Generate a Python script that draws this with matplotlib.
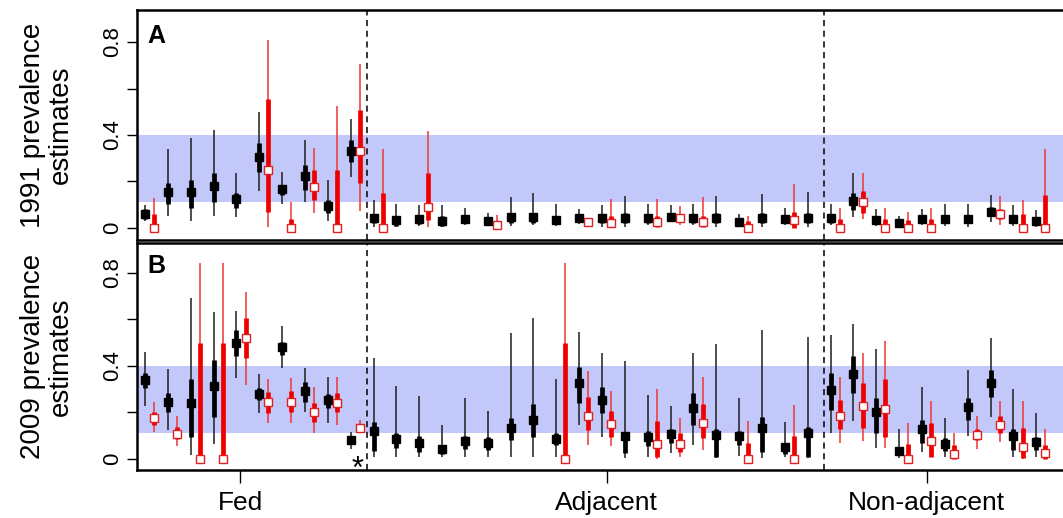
import numpy as np
import matplotlib
matplotlib.use('Agg')
import matplotlib.pyplot as plt

plt.rcParams['font.family'] = ['Liberation Sans', 'DejaVu Sans']

# 40 sites: 10 Fed, 20 Adjacent, 10 Non-adjacent
groups = ['Fed', 'Adjacent', 'Non-adjacent']
group_ticks = [4.16, 20.2, 34.2]
group_breaks = [9.72, 29.72]
band = (0.11, 0.40)
panel_labels = ['A', 'B']
ylabels = ['1991 prevalence\nestimates', '2009 prevalence\nestimates']

# rows: estimate, 50% lo, 50% hi, 95% lo, 95% hi  (None = no estimate)
a_black = [
    (0.060, 0.040, 0.080, 0.030, 0.100), (0.156, 0.103, 0.195, 0.052, 0.340),
    (0.156, 0.085, 0.206, 0.031, 0.387), (0.182, 0.113, 0.236, 0.052, 0.420),
    (0.124, 0.085, 0.150, 0.046, 0.238), (0.307, 0.242, 0.366, 0.159, 0.500),
    (0.167, 0.142, 0.185, 0.103, 0.240), (0.224, 0.163, 0.270, 0.110, 0.378),
    (0.096, 0.064, 0.120, 0.031, 0.206), (0.333, 0.285, 0.378, 0.220, 0.469),
    (0.042, 0.020, 0.060, 0.006, 0.120), (0.034, 0.010, 0.050, 0.006, 0.103),
    (0.039, 0.015, 0.055, 0.009, 0.099), (0.031, 0.010, 0.050, 0.006, 0.099),
    (0.039, 0.020, 0.055, 0.013, 0.085), (0.030, 0.015, 0.045, 0.009, 0.064),
    (0.046, 0.020, 0.065, 0.009, 0.135), (0.046, 0.020, 0.065, 0.013, 0.150),
    (0.034, 0.015, 0.050, 0.009, 0.103), (0.042, 0.025, 0.055, 0.017, 0.082),
    (0.042, 0.020, 0.060, 0.006, 0.099), (0.044, 0.020, 0.065, 0.006, 0.138),
    (0.042, 0.020, 0.060, 0.013, 0.103), (0.046, 0.030, 0.060, 0.024, 0.099),
    (0.042, 0.020, 0.060, 0.013, 0.103), (0.042, 0.020, 0.065, 0.006, 0.138),
    (0.027, 0.020, 0.040, 0.017, 0.060), (0.042, 0.020, 0.065, 0.006, 0.146),
    (0.037, 0.020, 0.055, 0.013, 0.085), (0.042, 0.020, 0.065, 0.006, 0.155),
    (0.042, 0.020, 0.060, 0.013, 0.103), (0.117, 0.077, 0.150, 0.049, 0.236),
    (0.034, 0.015, 0.050, 0.009, 0.082), (0.023, 0.010, 0.035, 0.006, 0.053),
    (0.039, 0.020, 0.055, 0.013, 0.082), (0.037, 0.020, 0.055, 0.009, 0.103),
    (0.040, 0.020, 0.055, 0.006, 0.103), (0.070, 0.050, 0.090, 0.027, 0.142),
    (0.039, 0.020, 0.055, 0.009, 0.099), (0.030, 0.015, 0.045, 0.006, 0.075),
]

a_red = [
    (0.000, 0.000, 0.060, 0.000, 0.130), None, None, None, None,
    (0.250, 0.068, 0.554, 0.006, 0.810), (0.000, 0.000, 0.040, 0.000, 0.110),
    (0.178, 0.120, 0.250, 0.066, 0.345), (0.000, 0.000, 0.250, 0.000, 0.525),
    (0.333, 0.195, 0.507, 0.074, 0.704),
    (0.000, 0.000, 0.150, 0.000, 0.340), None,
    (0.092, 0.034, 0.236, 0.006, 0.418), None, None,
    (0.011, 0.000, 0.030, 0.000, 0.056), None, None, None,
    (0.024, 0.012, 0.035, 0.009, 0.040),
    (0.023, 0.006, 0.050, 0.004, 0.125), None,
    (0.024, 0.006, 0.050, 0.004, 0.125), (0.043, 0.025, 0.060, 0.013, 0.096),
    (0.024, 0.006, 0.050, 0.004, 0.133), None,
    (0.000, 0.000, 0.030, 0.000, 0.050), None,
    (0.034, 0.000, 0.070, 0.000, 0.190), None,
    (0.000, 0.000, 0.040, 0.000, 0.085), (0.110, 0.064, 0.160, 0.037, 0.238),
    (0.000, 0.000, 0.040, 0.000, 0.085), (0.000, 0.000, 0.035, 0.000, 0.070),
    (0.000, 0.000, 0.040, 0.000, 0.085), None, None,
    (0.059, 0.040, 0.080, 0.013, 0.138), (0.000, 0.000, 0.060, 0.000, 0.120),
    (0.000, 0.000, 0.142, 0.000, 0.340),
]

b_black = [
    (0.339, 0.303, 0.368, 0.227, 0.460), (0.243, 0.203, 0.282, 0.124, 0.386),
    (0.239, 0.093, 0.342, 0.017, 0.692), (0.315, 0.182, 0.425, 0.064, 0.632),
    (0.497, 0.442, 0.554, 0.349, 0.636), (0.279, 0.253, 0.303, 0.196, 0.363),
    (0.479, 0.446, 0.503, 0.389, 0.571), (0.293, 0.246, 0.332, 0.200, 0.392),
    (0.253, 0.217, 0.279, 0.156, 0.353), (0.082, 0.065, 0.095, 0.042, 0.117),
    (0.120, 0.036, 0.160, 0.010, 0.432), (0.085, 0.046, 0.110, 0.007, 0.315),
    (0.070, 0.030, 0.100, 0.007, 0.272), (0.042, 0.020, 0.060, 0.007, 0.146),
    (0.077, 0.045, 0.100, 0.010, 0.260), (0.070, 0.040, 0.095, 0.010, 0.207),
    (0.134, 0.082, 0.177, 0.010, 0.542), (0.167, 0.096, 0.235, 0.007, 0.604),
    (0.086, 0.060, 0.110, 0.010, 0.343), (0.325, 0.239, 0.396, 0.146, 0.546),
    (0.253, 0.196, 0.310, 0.096, 0.456), (0.099, 0.024, 0.117, 0.003, 0.420),
    (0.096, 0.055, 0.120, 0.010, 0.275), (0.107, 0.070, 0.130, 0.027, 0.227),
    (0.218, 0.146, 0.282, 0.060, 0.456), (0.103, 0.007, 0.127, 0.003, 0.494),
    (0.099, 0.060, 0.120, 0.013, 0.260), (0.132, 0.031, 0.182, 0.003, 0.554),
    (0.050, 0.020, 0.065, 0.007, 0.160), (0.113, 0.010, 0.139, 0.003, 0.525),
    (0.296, 0.210, 0.368, 0.113, 0.532), (0.365, 0.282, 0.442, 0.163, 0.578),
    (0.203, 0.110, 0.260, 0.046, 0.472), (0.036, 0.020, 0.050, 0.003, 0.127),
    (0.129, 0.070, 0.167, 0.031, 0.310), (0.064, 0.035, 0.090, 0.007, 0.175),
    (0.222, 0.167, 0.260, 0.099, 0.382), (0.328, 0.265, 0.382, 0.182, 0.518),
    (0.100, 0.040, 0.127, 0.010, 0.300), (0.072, 0.040, 0.095, 0.007, 0.196),
]

b_red = [
    (0.177, 0.146, 0.203, 0.117, 0.243), (0.106, 0.086, 0.136, 0.056, 0.185),
    (0.000, 0.000, 0.500, 0.000, 0.843), (0.000, 0.000, 0.500, 0.000, 0.843),
    (0.518, 0.432, 0.606, 0.318, 0.715), (0.243, 0.196, 0.289, 0.153, 0.342),
    (0.246, 0.200, 0.290, 0.156, 0.348), (0.203, 0.160, 0.239, 0.113, 0.310),
    (0.242, 0.200, 0.285, 0.146, 0.350), (0.132, 0.120, 0.150, 0.110, 0.167),
    None, None, None, None, None, None, None, None,
    (0.000, 0.000, 0.500, 0.000, 0.843), (0.186, 0.124, 0.265, 0.060, 0.379),
    (0.149, 0.096, 0.207, 0.056, 0.292), None,
    (0.064, 0.010, 0.163, 0.000, 0.300), (0.064, 0.031, 0.110, 0.010, 0.177),
    (0.156, 0.089, 0.236, 0.039, 0.350), None,
    (0.000, 0.000, 0.070, 0.000, 0.163), None,
    (0.000, 0.000, 0.099, 0.000, 0.232), None,
    (0.185, 0.127, 0.253, 0.070, 0.353), (0.229, 0.132, 0.325, 0.079, 0.456),
    (0.213, 0.096, 0.342, 0.046, 0.508), (0.000, 0.000, 0.064, 0.000, 0.156),
    (0.077, 0.010, 0.153, 0.007, 0.249), (0.020, 0.000, 0.060, 0.000, 0.110),
    (0.103, 0.080, 0.130, 0.043, 0.185), (0.146, 0.110, 0.185, 0.074, 0.249),
    (0.053, 0.003, 0.132, 0.000, 0.249), (0.024, 0.000, 0.060, 0.000, 0.129),
]


def draw_series(ax, rows, dx, thin_c, thick_c, face, edge):
    keep = [i for i, r in enumerate(rows) if r is not None]
    vals = np.array([rows[i] for i in keep])
    xs = np.array(keep) + dx
    ax.vlines(xs, vals[:, 3], vals[:, 4], color=thin_c, lw=1.1, zorder=3)
    ax.vlines(xs, vals[:, 1], vals[:, 2], color=thick_c, lw=3.4, zorder=4)
    ax.plot(xs, vals[:, 0], ls='none', marker='s', ms=6, mfc=face,
            mec=edge, mew=1.0, zorder=5)


W, H = 1063, 518
fig = plt.figure(figsize=(W / 100, H / 100), dpi=100)
ax_a = fig.add_axes([137 / W, 1 - 240 / H, (W - 137) / W, 230 / H])
ax_b = fig.add_axes([137 / W, 1 - 470 / H, (W - 137) / W, 227 / H])

ylims = [(-0.052, 0.938), (-0.047, 0.927)]
series = [(a_black, a_red), (b_black, b_red)]

for k, ax in enumerate([ax_a, ax_b]):
    blk, red = series[k]
    ax.axhspan(band[0], band[1], color='#c2c8f9', lw=0, zorder=0)
    for xb in group_breaks:
        ax.axvline(xb, color='black', lw=1.1, ls=(0, (4, 3)), zorder=2)
    draw_series(ax, blk, 0.0, '#1e1e1e', 'black', 'black', 'black')
    draw_series(ax, red, 0.4, '#ee3535', '#ee0000', 'white', '#e02020')
    ax.set_xlim(-0.35, 40.17)
    ax.set_ylim(*ylims[k])
    ax.set_yticks([0, 0.2, 0.4, 0.6, 0.8])
    ax.set_yticklabels(['0', '', '0.4', '', '0.8'], rotation=90, va='center',
                       fontsize=16)
    ax.tick_params(axis='y', length=7, width=1.0, pad=3)
    for s in ['top', 'bottom', 'left']:
        ax.spines[s].set_linewidth(1.8)
    ax.spines['right'].set_visible(False)
    ax.text(0.1, 0.797, panel_labels[k], fontsize=18, fontweight='bold',
            va='baseline', ha='left')
    y0, y1 = ax.get_position().y0, ax.get_position().y1
    fig.text(47 / W, (y0 + y1) / 2, ylabels[k], rotation=90, ha='center',
             va='center', multialignment='center', fontsize=20,
             linespacing=1.1)

ax_a.set_xticks([])
ax_b.set_xticks(group_ticks)
ax_b.set_xticklabels(groups, fontsize=19)
ax_b.tick_params(axis='x', length=9, width=1.0, pad=6)

# marker for the one flagged Fed site
ax_b.text(9.28, -0.045, '*', fontsize=22, ha='center', va='center')

fig.savefig('out.png', dpi=100)
